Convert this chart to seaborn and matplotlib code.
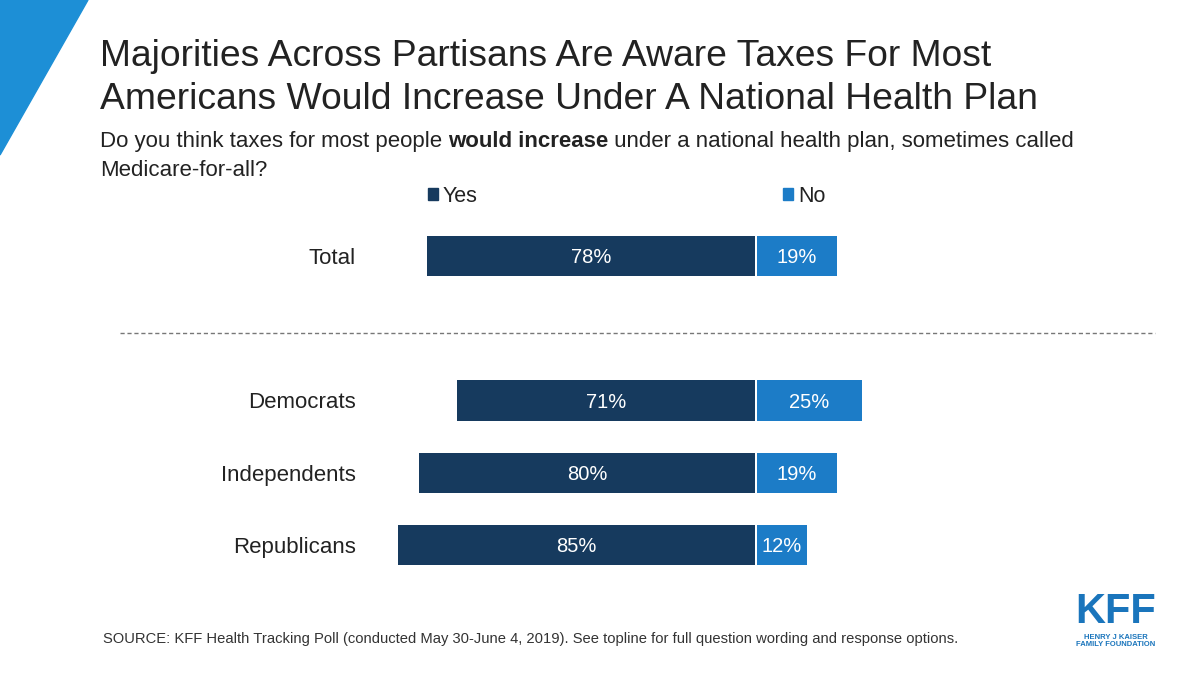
import matplotlib
matplotlib.use("Agg")
import matplotlib.pyplot as plt
import seaborn as sns
import pandas as pd
from matplotlib.patches import Polygon

categories = ["Total", " ", "Democrats", "Independents", "Republicans"]
groups = ["Total", "Democrats", "Independents", "Republicans"]
yes_vals = [78, 71, 80, 85]
no_vals = [19, 25, 19, 12]
responses = ["Yes", "No"]
colors = {"Yes": "#163a5e", "No": "#1c7cc7"}

rows = []
for g, y, n in zip(groups, yes_vals, no_vals):
    rows.append({"group": g, "resp": "Yes", "val": -y, "lab": y})
    rows.append({"group": g, "resp": "No", "val": n, "lab": n})
df = pd.DataFrame(rows)

sns.set_theme(style="white")
plt.rcParams["font.family"] = ["Liberation Sans", "DejaVu Sans"]

fig = plt.figure(figsize=(12, 6.75), dpi=100)
ax = fig.add_axes([0, 0, 1, 1])
sns.barplot(data=df, y="group", x="val", hue="resp", order=categories,
            hue_order=responses, palette=colors, dodge=False, orient="h",
            width=0.56, ax=ax, legend=False, linewidth=0, saturation=1)
for p in ax.patches:
    if p.get_width() > 0:
        p.set_x(p.get_x() + 0.45)
ax.set_xlim(-755 / 4.2, 445 / 4.2)
ax.set_ylim((675 - 256) / 72.25, -256 / 72.25)
ax.axis("off")

for g, y, n in zip(groups, yes_vals, no_vals):
    i = categories.index(g)
    ax.text(-y / 2, i, f"{y}%", color="white", ha="center", va="center_baseline", fontsize=14.5)
    ax.text(n / 2 + 0.45, i, f"{n}%", color="white", ha="center", va="center_baseline", fontsize=14.5)
    ax.text(-95, i, g, color="#222222", ha="right", va="center_baseline", fontsize=16)

ax.plot([(120 - 755) / 4.2, (1155 - 755) / 4.2], [1.07, 1.07], ls=(0, (3, 2)),
        color="#777777", lw=1)

for r, xp in zip(responses, [428, 783]):
    fig.patches.append(plt.Rectangle((xp / 1200, 1 - 200 / 675), 10 / 1200, 12 / 675,
                                     transform=fig.transFigure, color=colors[r]))
    fig.text((xp + 15) / 1200, 1 - 194 / 675, r, fontsize=15.5, va="center_baseline", color="#222222")

fig.patches.append(Polygon([(0, 1), (88 / 1200, 1), (0, 1 - 155 / 675)], closed=True,
                           transform=fig.transFigure, color="#1d8fd6"))

fig.text(100 / 1200, 1 - 78 / 675,
         "Majorities Across Partisans Are Aware Taxes For Most\nAmericans Would Increase Under A National Health Plan",
         fontsize=26.8, va="center", color="#222222", linespacing=1.27)
ys = 1 - 139 / 675
fs = 16
fig.text(100 / 1200, ys, "Do you think taxes for most people ", fontsize=fs, va="center_baseline", color="#222222")
fig.canvas.draw()
r = fig.canvas.get_renderer()
w1 = fig.texts[-1].get_window_extent(r).width
fig.text(100 / 1200 + w1 / 1200, ys, "would increase", fontsize=fs, va="center_baseline",
         color="#222222", fontweight="bold")
fig.canvas.draw()
w2 = fig.texts[-1].get_window_extent(r).width
fig.text(100 / 1200 + (w1 + w2) / 1200, ys,
         " under a national health plan, sometimes called", fontsize=fs, va="center_baseline", color="#222222")
fig.text(100 / 1200, 1 - 168 / 675, "Medicare-for-all?", fontsize=fs, va="center_baseline", color="#222222")

fig.text(103 / 1200, 1 - 637 / 675,
         "SOURCE: KFF Health Tracking Poll (conducted May 30-June 4, 2019). See topline for full question wording and response options.",
         fontsize=10.6, va="center_baseline", color="#333333")
fig.text(1116 / 1200, 1 - 612 / 675, "KFF", fontsize=30, fontweight="bold", color="#1a75bc",
         ha="center", va="center")
fig.text(1116 / 1200, 1 - 641 / 675, "HENRY J KAISER\nFAMILY FOUNDATION", fontsize=5.5,
         color="#1a75bc", ha="center", va="center", fontweight="bold", linespacing=1.1)

fig.savefig("out.png", dpi=100)
